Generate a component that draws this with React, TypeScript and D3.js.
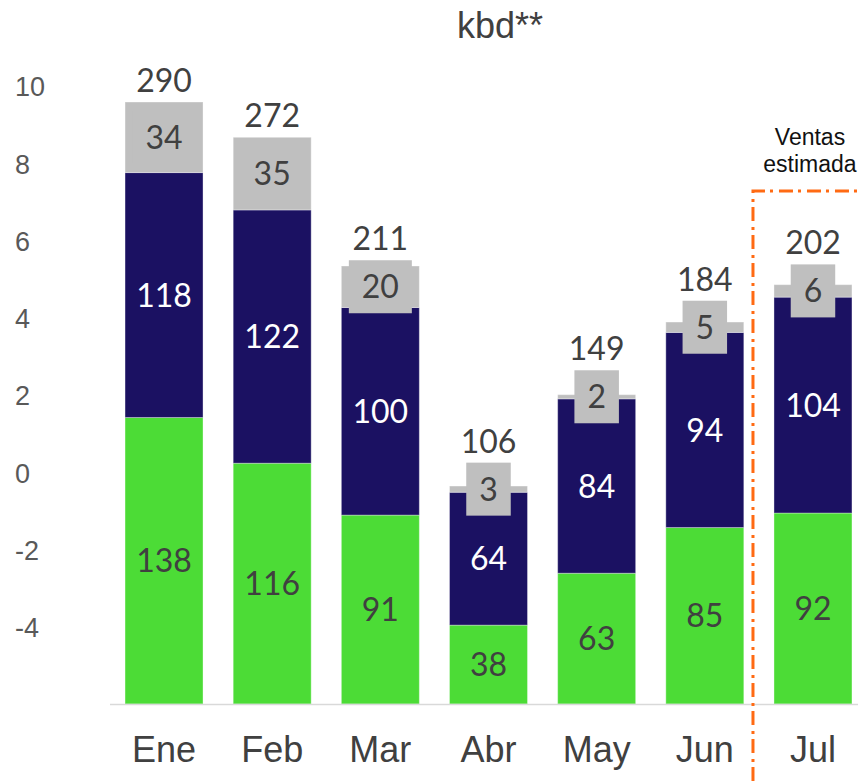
import React from "react";
import * as d3 from "d3";

const months = ["Ene", "Feb", "Mar", "Abr", "May", "Jun", "Jul"];
const greenVals = [138, 116, 91, 38, 63, 85, 92];
const blueVals = [118, 122, 100, 64, 84, 94, 104];
const grayVals = [34, 35, 20, 3, 2, 5, 6];
const totals = [290, 272, 211, 106, 149, 184, 202];
const leftTicks = [10, 8, 6, 4, 2, 0, -2, -4];
const title = "kbd**";
const noteLines = ["Ventas", "estimada"];

const W = 858;
const H = 781;
const BASE = 704;

const COLORS = ["#4CDC36", "#1B1162", "#BFBFBF"];
const TEXT_COLORS = ["#404040", "#FFFFFF", "#404040"];
const NUM_FONT = "Lato, 'Open Sans', sans-serif";
const AX_FONT = "'Liberation Sans', Arial, sans-serif";

export default function App() {
  const x = d3
    .scaleBand<string>()
    .domain(months)
    .range([110, 867])
    .paddingInner(0.279)
    .paddingOuter(0.139);
  const y = d3.scaleLinear().domain([0, 290]).range([BASE, 102]);
  const yLeft = d3.scaleLinear().domain([-6, 10]).range([705, 87]);

  const rows = months.map((m, i) => ({
    m,
    green: greenVals[i],
    blue: blueVals[i],
    gray: grayVals[i],
  }));
  const stack = d3.stack<any>().keys(["green", "blue", "gray"]);
  const series = stack(rows);
  const bw = x.bandwidth();

  const boxH = 53;

  const julX = x("Jul")!;
  const dashX = julX - 21;
  const dashY = 191;

  return (
    <svg
      width={W}
      height={H}
      style={{ position: "absolute", left: 0, top: 0, background: "#fff" }}
    >
      <text
        x={500}
        y={38}
        textAnchor="middle"
        fontFamily={AX_FONT}
        fontSize={36}
        fill="#404040"
      >
        {title}
      </text>

      {leftTicks.map((t) => (
        <text
          key={t}
          x={15}
          y={yLeft(t)}
          dy="0.35em"
          fontFamily={AX_FONT}
          fontSize={27}
          fill="#595959"
        >
          {t}
        </text>
      ))}

      {series.map((s, si) =>
        s.map((d, i) => (
          <rect
            key={`${si}-${i}`}
            x={x(months[i])}
            y={y(d[1])}
            width={bw}
            height={y(d[0]) - y(d[1])}
            fill={COLORS[si]}
            stroke="#ffffff"
            strokeOpacity={0.35}
            strokeWidth={1}
          />
        ))
      )}

      <line
        x1={110}
        x2={W}
        y1={BASE + 0.5}
        y2={BASE + 0.5}
        stroke="#D9D9D9"
        strokeWidth={1.5}
      />

      {series.map((s, si) =>
        s.map((d, i) => {
          const cx = x(months[i])! + bw / 2;
          const cy = (y(d[0]) + y(d[1])) / 2;
          const val = [greenVals, blueVals, grayVals][si][i];
          const label = String(val);
          const boxW = label.length * 18.5 + 26;
          return (
            <g key={`l-${si}-${i}`}>
              {si === 2 && (
                <rect
                  x={cx - boxW / 2}
                  y={cy - boxH / 2}
                  width={boxW}
                  height={boxH}
                  fill={COLORS[2]}
                />
              )}
              <text
                x={cx}
                y={cy}
                dy="0.36em"
                textAnchor="middle"
                fontFamily={NUM_FONT}
                fontSize={32}
                fill={TEXT_COLORS[si]}
              >
                {label}
              </text>
            </g>
          );
        })
      )}

      {months.map((m, i) => {
        const top = series[2][i][1];
        const grayCenter = (y(series[2][i][0]) + y(top)) / 2;
        const labelTop = Math.min(y(top), grayCenter - boxH / 2);
        return (
          <text
            key={`t-${m}`}
            x={x(m)! + bw / 2}
            y={labelTop - 10}
            textAnchor="middle"
            fontFamily={NUM_FONT}
            fontSize={32}
            fill="#404040"
          >
            {totals[i]}
          </text>
        );
      })}

      {months.map((m) => (
        <text
          key={`c-${m}`}
          x={x(m)! + bw / 2}
          y={762}
          textAnchor="middle"
          fontFamily={AX_FONT}
          fontSize={36}
          fill="#404040"
        >
          {m}
        </text>
      ))}

      <path
        d={`M${dashX},${H} L${dashX},${dashY} L${W},${dashY}`}
        fill="none"
        stroke="#FF6A13"
        strokeWidth={3}
        strokeDasharray="14,5,3,6"
      />

      {noteLines.map((t, i) => (
        <text
          key={t}
          x={810}
          y={145 + i * 27}
          textAnchor="middle"
          fontFamily={AX_FONT}
          fontSize={23}
          fill="#111111"
        >
          {t}
        </text>
      ))}
    </svg>
  );
}
